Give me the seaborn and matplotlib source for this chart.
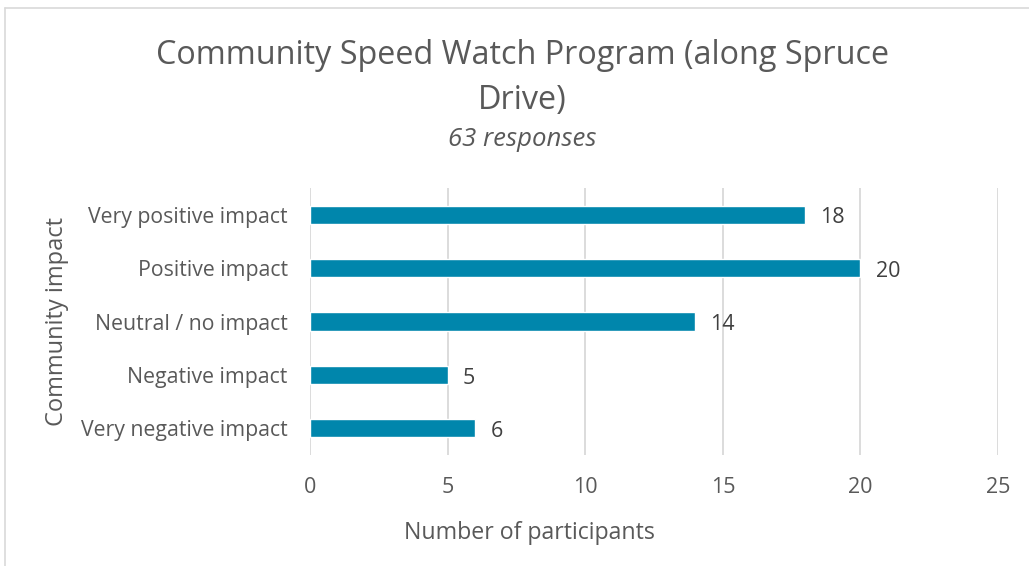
import matplotlib
matplotlib.use("Agg")
import matplotlib.pyplot as plt
import seaborn as sns
import pandas as pd
from matplotlib.lines import Line2D

categories = ["Very positive impact", "Positive impact", "Neutral / no impact",
              "Negative impact", "Very negative impact"]
counts = [18, 20, 14, 5, 6]
x_ticks = [0, 5, 10, 15, 20, 25]

df = pd.DataFrame({"impact": categories, "participants": counts})

sns.set_theme(style="white")
plt.rcParams['font.family'] = ['Open Sans', 'DejaVu Sans']
grey = "#595959"

fig = plt.figure(figsize=(10.29, 5.66), dpi=100)
ax = fig.add_axes([310 / 1029, 1 - 455 / 566, 688 / 1029, 267 / 566])

sns.barplot(data=df, x="participants", y="impact", orient="h", color="#0086AC",
            saturation=1, width=0.34, ax=ax)

# value labels next to each bar
for i, v in enumerate(counts):
    ax.text(v + 0.55, i + 0.06, str(v), va="center", ha="left", fontsize=15.5, color="#404040")

ax.set_xlim(0, 25)
ax.set_xticks(x_ticks)
ax.set_xticklabels([str(t) for t in x_ticks], fontsize=15.5, color=grey)
ax.tick_params(axis="x", length=0, pad=16)
ax.tick_params(axis="y", length=0, pad=16, labelsize=15.3, labelcolor=grey)
ax.xaxis.grid(True, color="#d9d9d9", linewidth=1.3)
ax.set_axisbelow(True)
for s in ax.spines.values():
    s.set_visible(False)
ax.set_xlabel("")
ax.set_ylabel("")

fig.text(529 / 1029, 1 - 533 / 566, "Number of participants", ha="center", va="center",
         fontsize=16.7, color=grey)
fig.text(57 / 1029, 1 - 321 / 566, "Community impact", ha="center", va="center",
         rotation=90, fontsize=17, color=grey)

fig.text(0.508, 1 - 55 / 566, "Community Speed Watch Program (along Spruce",
         ha="center", va="center", fontsize=23.3, color=grey)
fig.text(0.508, 1 - 100 / 566, "Drive)", ha="center", va="center", fontsize=23.3, color=grey)
fig.text(0.508, 1 - 139 / 566, "63 responses", ha="center", va="center",
         fontsize=18.5, color=grey, style="italic")

# chart border (top and left edges visible in the crop)
fig.add_artist(Line2D([5 / 1029, 1.0], [1 - 8 / 566, 1 - 8 / 566], color="#d9d9d9", linewidth=1.2))
fig.add_artist(Line2D([5 / 1029, 5 / 1029], [0.0, 1 - 8 / 566], color="#d9d9d9", linewidth=1.2))

fig.savefig("out.png", dpi=100)
